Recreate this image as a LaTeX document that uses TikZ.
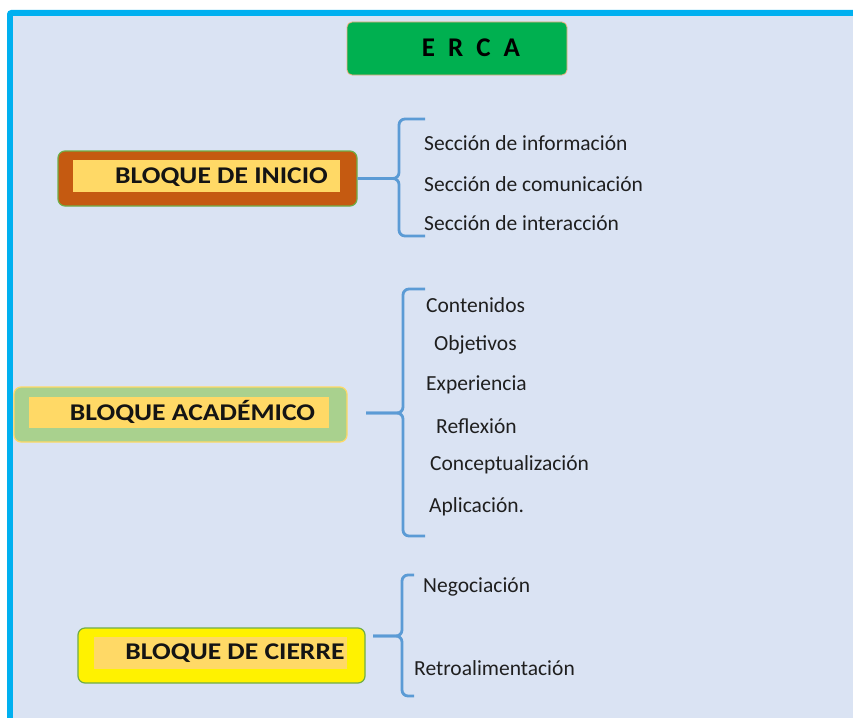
\documentclass[tikz,border=0pt]{standalone}
\usepackage{fontspec}
\setmainfont{Carlito}
\newfontfamily\widefont[FakeStretch=1.15]{Carlito}
\definecolor{bgblue}{HTML}{DAE3F3}
\definecolor{frameblue}{HTML}{00B0F0}
\definecolor{ercagreen}{HTML}{00B050}
\definecolor{peach}{HTML}{F4B183}
\definecolor{rust}{HTML}{C55A11}
\definecolor{gold}{HTML}{FFD966}
\definecolor{leaf}{HTML}{A9D18E}
\definecolor{edgegreen}{HTML}{70AD47}
\definecolor{linkblue}{HTML}{5B9BD5}
\tikzset{
  outerbox/.style={draw=edgegreen, line width=1.2pt, rounded corners=7pt, minimum height=55pt, inner sep=0pt},
  innerbox/.style={fill=gold, inner sep=0pt, minimum height=32pt},
  blocktext/.style={font=\widefont\fontsize{24}{26}\selectfont\bfseries, text=black!92, inner sep=0pt},
  item/.style={font=\fontsize{21.5}{23}\selectfont, text=black!88, anchor=west, inner sep=0pt},
  brace/.style={draw=linkblue, line width=2.8pt, rounded corners=6pt}
}
\begin{document}
\begin{tikzpicture}[x=1pt,y=-1pt]
\useasboundingbox (0,0) rectangle (853,717);
\begin{scope}
\clip (0,0) rectangle (853,717);
\fill[frameblue, rounded corners=4pt] (7,10) rectangle (870,740);
\fill[bgblue] (13,16) rectangle (870,740);
\end{scope}
% title
\node[fill=ercagreen, draw=peach, line width=0.8pt, rounded corners=5pt, minimum width=220pt, minimum height=53pt, inner sep=0pt] (erca) at (457,48.5) {};
\node[font=\fontsize{27}{29}\selectfont\bfseries, inner sep=0pt] (ercat) at (471,48) {E\hspace{13pt}R\hspace{13pt}C\hspace{13pt}A};
% bloque de inicio
\node[outerbox, fill=rust, minimum width=299pt] (inicio) at (207.5,178.5) {};
\node[innerbox, minimum width=267pt] (inicioin) at (206.5,176) {};
\node[blocktext] (iniciot) at (221.5,177) {BLOQUE DE INICIO};
% bloque academico
\node[outerbox, fill=leaf, draw=gold, minimum width=333pt] (acad) at (180.5,414.5) {};
\node[innerbox, minimum width=300pt, minimum height=31pt] (acadin) at (179,412.5) {};
\node[blocktext] (acadt) at (192.5,412) {BLOQUE ACADÉMICO};
% bloque de cierre
\node[outerbox, fill=yellow, minimum width=287pt] (cierre) at (221.5,655.5) {};
\node[innerbox, minimum width=253pt] (cierrein) at (220.5,653) {};
\node[blocktext] (cierret) at (235,653) {BLOQUE DE CIERRE};
% items
\node[item] (i1) at (424,143) {Sección de información};
\node[item] (i2) at (424,184) {Sección de comunicación};
\node[item] (i3) at (424,223) {Sección de interacción};
\node[item] (a1) at (426,305) {Contenidos};
\node[item] (a2) at (434,345) {Objetivos};
\node[item] (a3) at (426,385) {Experiencia};
\node[item] (a4) at (436,426) {Reflexión};
\node[item] (a5) at (430,465) {Conceptualización};
\node[item] (a6) at (429,507) {Aplicación.};
\node[item] (c1) at (423,587) {Negociación};
\node[item] (c2) at (414,668) {Retroalimentación};
% connectors / braces
\coordinate (s2) at (366,413);
\coordinate (s3) at (373,636);
\draw[brace] (inicio.east) -- (399,178.5) -- (399,119) -- (425,119);
\draw[brace] (inicio.east) -- (399,178.5) -- (399,236) -- (425,236);
\draw[brace] (s2) -- (403,413) -- (403,289) -- (425,289);
\draw[brace] (s2) -- (403,413) -- (403,536) -- (425,536);
\draw[brace] (s3) -- (402,636) -- (402,575) -- (414,575);
\draw[brace] (s3) -- (402,636) -- (402,696) -- (414,696);
\end{tikzpicture}
\end{document}
